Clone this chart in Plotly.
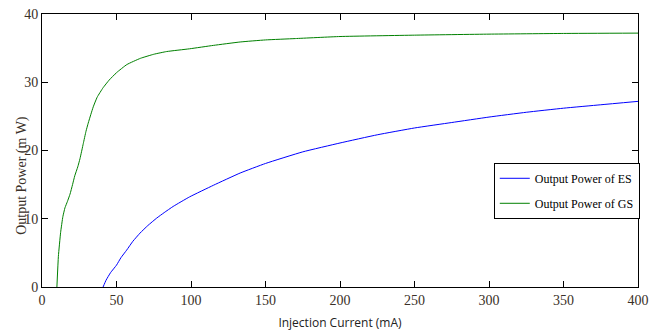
import plotly.graph_objects as go

gs_current = [10, 11, 12.5, 14, 15.4, 17, 18.8, 20.5, 22, 24, 25.5, 27.7, 29.5, 31, 32.8, 34.4, 37, 41, 45, 50, 57, 66, 75, 83.7, 99, 115, 133, 150, 170, 200, 250, 300, 350, 400]
gs_power = [0, 4.5, 8.0, 10.3, 11.6, 12.5, 13.6, 15.0, 16.3, 17.6, 18.8, 21.0, 22.8, 24.0, 25.3, 26.4, 27.8, 29.2, 30.3, 31.4, 32.6, 33.5, 34.1, 34.5, 34.9, 35.4, 35.9, 36.2, 36.4, 36.7, 36.9, 37.05, 37.15, 37.2]

es_current = [41, 43, 46, 50, 53, 56.8, 61, 65.8, 71, 77, 82, 88, 99, 115, 133, 150, 175, 200, 225, 250, 275, 300, 325, 350, 375, 400]
es_power = [0, 1.0, 2.1, 3.2, 4.3, 5.4, 6.7, 7.9, 9.0, 10.1, 10.9, 11.8, 13.2, 14.9, 16.7, 18.1, 19.8, 21.1, 22.3, 23.3, 24.1, 24.9, 25.6, 26.2, 26.7, 27.2]

x_ticks = [0, 50, 100, 150, 200, 250, 300, 350, 400]
y_ticks = [0, 10, 20, 30, 40]

fig = go.Figure()
fig.add_trace(go.Scatter(x=es_current, y=es_power, mode="lines", name="Output Power of ES",
                         legendgroup="es", line=dict(color="#0000ff", width=1, shape="spline", smoothing=0.4)))
fig.add_trace(go.Scatter(x=gs_current, y=gs_power, mode="lines", name="Output Power of GS",
                         legendgroup="gs", line=dict(color="#008000", width=1, shape="spline", smoothing=0.4)))

tickfont = dict(family="Liberation Serif, Times New Roman, serif", size=14, color="#3a3028")
fig.update_layout(
    width=661, height=333,
    margin=dict(l=42, r=23, t=14, b=46, autoexpand=False),
    paper_bgcolor="white", plot_bgcolor="white",
    showlegend=True,
    legend=dict(x=0.758, y=0.455, xanchor="left", yanchor="top",
                bordercolor="black", borderwidth=1, bgcolor="white",
                font=dict(family="Liberation Serif, Times New Roman, serif", size=12, color="black"),
                traceorder="grouped", tracegroupgap=6, itemwidth=30),
    xaxis=dict(range=[0, 400], tickvals=x_ticks, ticktext=[str(v) for v in x_ticks],
               ticks="inside", ticklen=6, tickcolor="black", showline=True, linecolor="black",
               linewidth=1, mirror="ticks", showgrid=False, zeroline=False, tickfont=tickfont,
               automargin=False,
               title=dict(text="Injection Current (mA)", standoff=11,
                          font=dict(family="Open Sans, DejaVu Sans, sans-serif", size=12, color="#222"))),
    yaxis=dict(range=[0, 40], tickvals=y_ticks, ticktext=[str(v) for v in y_ticks],
               ticks="inside", ticklen=6, tickcolor="black", showline=True, linecolor="black",
               linewidth=1, mirror="ticks", showgrid=False, zeroline=False, tickfont=tickfont,
               automargin=False),
    annotations=[dict(text="Output Power (m W)", textangle=-90, showarrow=False,
                      xref="paper", yref="paper", x=-0.034, y=0.41, xanchor="center", yanchor="middle",
                      font=dict(family="Liberation Serif, Times New Roman, serif", size=14, color="#3a3028"))],
)
fig.write_html("out.html", config={"displayModeBar": False},
               post_script="document.body.style.margin='0';document.body.style.padding='0';")
